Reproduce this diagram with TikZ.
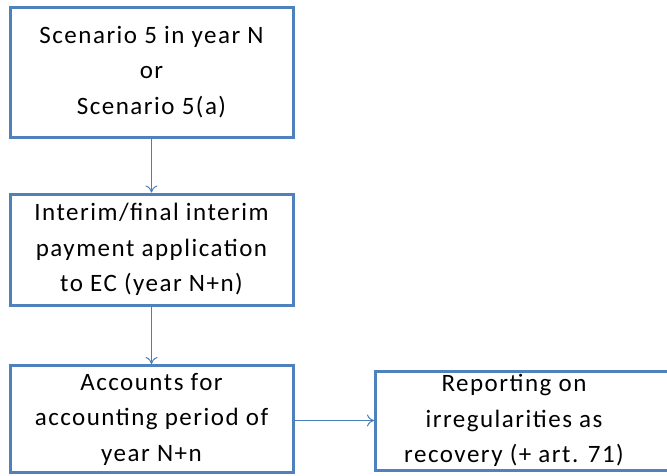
\documentclass[tikz,border=0pt]{standalone}
\usepackage{fontspec}
\setmainfont{Carlito}[LetterSpace=6]
\usetikzlibrary{arrows.meta}
\definecolor{boxblue}{HTML}{4F81BD}
\definecolor{arrowblue}{HTML}{4A7EBB}
\tikzset{
  flowtext/.style={align=center, inner sep=0pt, font=\fontsize{25}{35.5}\selectfont},
  flowbox/.style={flowtext, draw=boxblue, line width=3pt, fill=white},
  flowarrow/.style={draw=arrowblue, line width=1pt, -{To[length=7pt,width=12pt]}}
}
\begin{document}
\begin{tikzpicture}[x=1pt,y=-1pt]
\useasboundingbox (0,0) rectangle (667,475);
\node[flowbox, minimum width=283pt, minimum height=130pt] (b1) at (151.5,72)
  {Scenario 5 in year N\\or\\Scenario 5(a)};
\node[flowbox, minimum width=283pt, minimum height=111pt] (b2) at (151.5,249.5)
  {Interim/final interim\\payment application\\to EC (year N+n)};
\node[flowbox, minimum width=283pt, minimum height=107pt] (b3) at (151.5,419)
  {Accounts for\\accounting period of\\year N+n};
\node[flowbox, minimum width=305pt, minimum height=99pt] (b4) at (528,420.5) {};
\node[flowtext] (b4t) at (514,420.5)
  {Reporting on\\irregularities as\\recovery (+ art. 71)};
\draw[flowarrow] (b1.south) -- (b2.north);
\draw[flowarrow] (b2.south) -- (b3.north);
\draw[flowarrow] (b3.east |- b4.west) -- (b4.west);
\end{tikzpicture}
\end{document}
